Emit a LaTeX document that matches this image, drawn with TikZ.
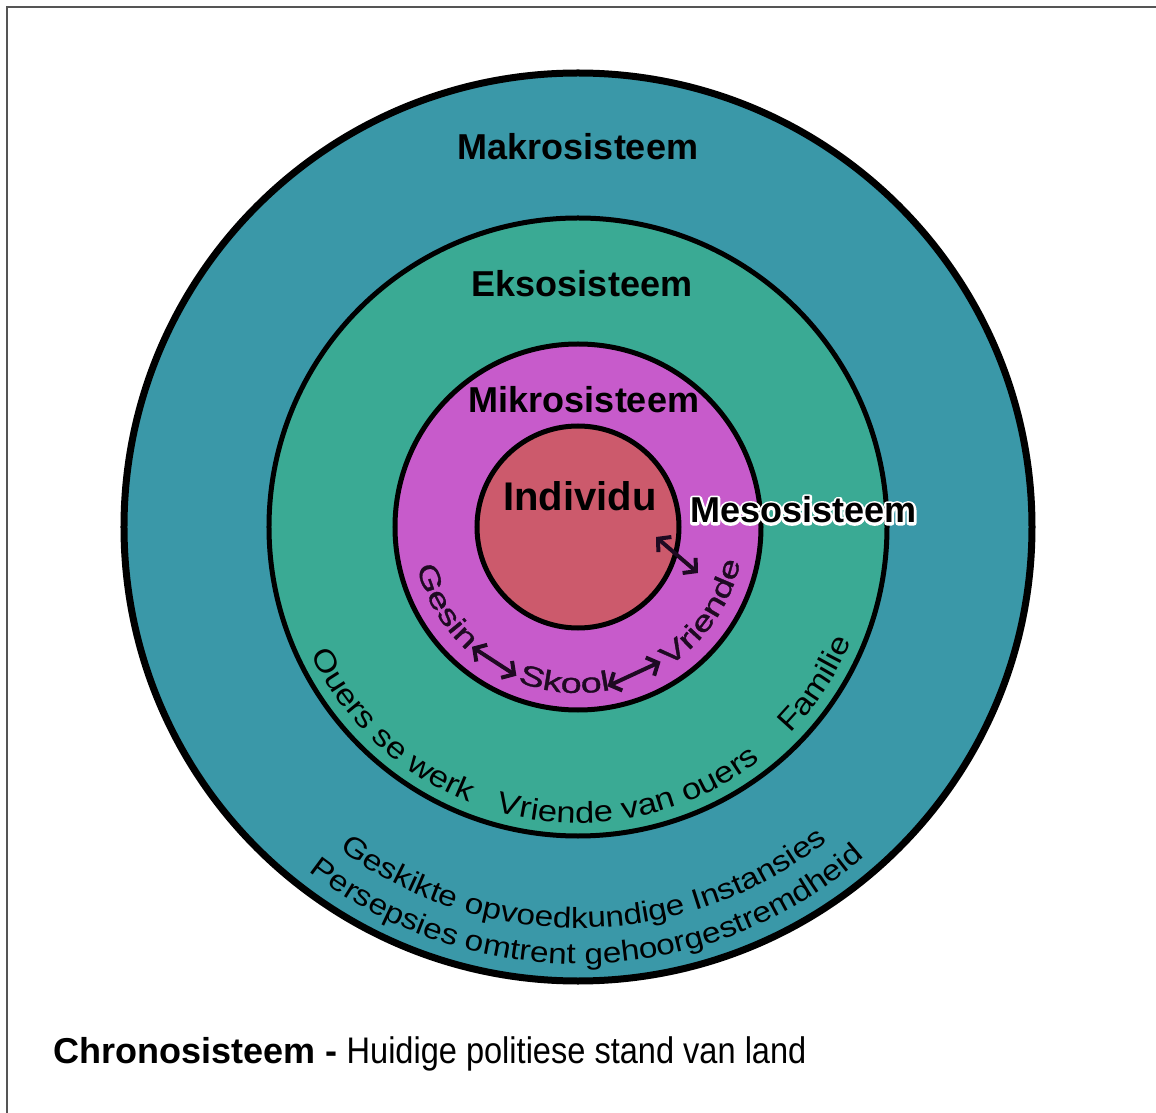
\documentclass[tikz,border=0pt]{standalone}
\usepackage{fontspec}
\setmainfont{Liberation Sans}
\newfontfamily\widefont[FakeStretch=1.35, FakeBold=1.2]{Liberation Sans}
\newfontfamily\ringfont[FakeStretch=1.15]{Liberation Sans}
\newfontfamily\narrowfont[FakeStretch=0.88]{Liberation Sans}
\usepackage{xcolor}
\usepackage{tikz}
\usetikzlibrary{arrows.meta, decorations.text, positioning}

\definecolor{makro}{HTML}{3A98A8}
\definecolor{ekso}{HTML}{3AAA94}
\definecolor{mikro}{HTML}{C75BCB}
\definecolor{indiv}{HTML}{CC5A6C}
\definecolor{framegray}{HTML}{555555}
\definecolor{ink}{HTML}{1E0A22}

\newcommand\mikrotext{\widefont\fontsize{28}{30}\selectfont}
\newcommand\eksotext{\ringfont\fontsize{30}{32}\selectfont}
\newcommand\makrotext{\ringfont\fontsize{29}{32}\selectfont}
\newcommand\halo[1]{\special{pdf:literal direct 2 Tr 5 w 1 j}#1\special{pdf:literal direct 0 Tr}}

\begin{document}
\begin{tikzpicture}[x=1pt, y=1pt,
    title/.style={font=\bfseries\fontsize{36}{40}\selectfont, anchor=base, inner sep=0pt},
    mesolabel/.style={font=\bfseries\fontsize{36}{40}\selectfont, anchor=base west, inner sep=0pt},
    link/.style={{Straight Barb[length=9pt,width=20pt]}-{Straight Barb[length=9pt,width=20pt]}, line width=4pt, color=ink},
    ringtext/.style 2 args={decorate, decoration={text along path, text align=center, text={|#1|#2}}}]
    \useasboundingbox (-578,-586) rectangle (578,527);
    \draw[color=framegray, line width=2pt] (-571,-586) -- (-571,520) -- (578,520);

    \draw[fill=makro, line width=7pt] (0,0) circle (454);
    \draw[fill=ekso, line width=5pt] (0,0) circle (309);
    \draw[fill=mikro, line width=5pt] (0,0) circle (183);
    \draw[fill=indiv, line width=5pt] (0,0) circle (101);

    \node[title] (makro) at (0,367) {Makrosisteem};
    \node[title] (ekso) at (4,230) {Eksosisteem};
    \node[title] (mikro) at (6,114) {Mikrosisteem};
    \node[title, font=\bfseries\fontsize{40}{44}\selectfont] (individu) at (2,16) {Individu};

    % mesosisteem with a white halo
    \begin{scope}
      \node[mesolabel, text=white] (mesohalo) at (112,4) {\halo{Mesosisteem}};
    \end{scope}
    \node[mesolabel] (meso) at (112,4) {Mesosisteem};
    \coordinate (mesoA) at (78,-10);
    \coordinate (mesoB) at (120,-46);
    \draw[link] (mesoA) -- (mesoB);

    % mikrosisteem ring
    \path[ringtext={\color{ink}\mikrotext}{Gesin}] (181:166) arc[start angle=181, end angle=241, radius=166];
    \path[ringtext={\color{ink}\mikrotext}{Skool}] (235:166) arc[start angle=235, end angle=295, radius=166];
    \path[ringtext={\color{ink}\mikrotext}{Vriende}] (290:166) arc[start angle=290, end angle=361, radius=166];
    \coordinate (gesinR) at (228.5:160);
    \coordinate (skoolL) at (247.5:161);
    \coordinate (skoolR) at (280.5:162);
    \coordinate (vriendeL) at (301.5:158);
    \draw[link] (gesinR) -- (skoolL);
    \draw[link] (skoolR) -- (vriendeL);

    % eksosisteem ring
    \path[ringtext={\eksotext}{Ouers se werk}] (182:296) arc[start angle=182, end angle=272, radius=296];
    \path[ringtext={\eksotext}{Vriende van ouers}] (231:296) arc[start angle=231, end angle=331, radius=296];
    \path[ringtext={\eksotext}{Familie}] (301:296) arc[start angle=301, end angle=352, radius=296];

    % makrosisteem ring
    \path[ringtext={\makrotext}{Geskikte opvoedkundige Instansies}] (216:401) arc[start angle=216, end angle=326, radius=401];
    \path[ringtext={\makrotext}{Persepsies omtrent gehoorgestremdheid}] (211:437) arc[start angle=211, end angle=332, radius=437];

    \node[anchor=base west, inner sep=0pt, font=\bfseries\fontsize{36}{40}\selectfont] (chrono) at (-525,-536) {Chronosisteem -};
    \node[base right=9pt of chrono, inner sep=0pt, font=\narrowfont\fontsize{37}{40}\selectfont] (stand) {Huidige politiese stand van land};
\end{tikzpicture}
\end{document}
